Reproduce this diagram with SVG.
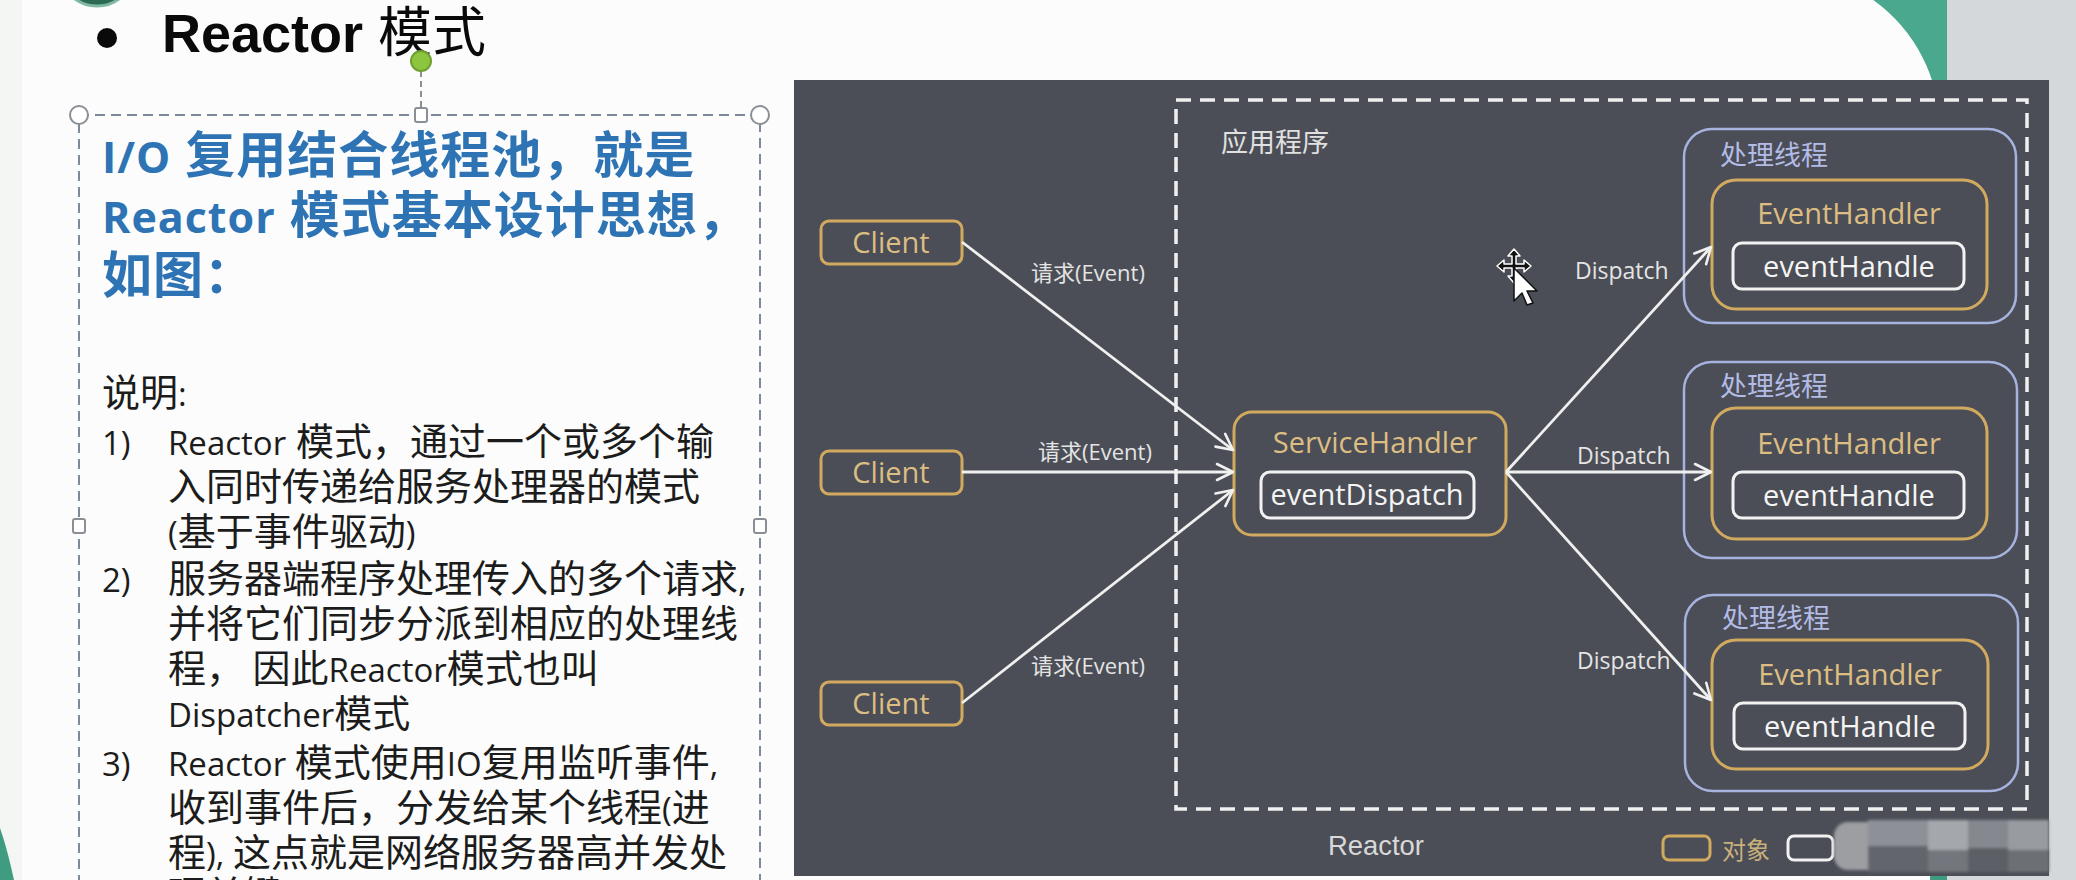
<svg xmlns="http://www.w3.org/2000/svg" width="2076" height="880" viewBox="0 0 2076 880">
  <defs>
    <style>
      .head { font-family: "Liberation Sans", "Noto Sans CJK SC", sans-serif; font-size: 54px; font-weight: 700; fill: #0a0a0a; }
      .head-cjk { font-weight: 400; }
      .title { font-family: "Open Sans", "Noto Sans CJK SC", sans-serif; font-size: 50px; font-weight: 700; fill: #2e74b5; letter-spacing: 1px; }
      .tlat { font-size: 43px; }
      .body { font-family: "Open Sans", "Noto Sans CJK SC", sans-serif; font-size: 38px; fill: #1c1c1c; }
      .lat { font-size: 33px; }
      .handle { fill: #ffffff; stroke: #8a8f96; stroke-width: 2; }
      .gold-box { fill: none; stroke: #d1a95f; stroke-width: 3; }
      .white-box { fill: none; stroke: #f2f2f2; stroke-width: 3; }
      .thread-box { fill: none; stroke: #a7b3df; stroke-width: 2.5; }
      .gold-text { font-family: "Open Sans", "Noto Sans CJK SC", sans-serif; font-size: 29px; fill: #dcbd82; text-anchor: middle; }
      .white-text { font-family: "Open Sans", "Noto Sans CJK SC", sans-serif; font-size: 29px; fill: #f4f4f4; text-anchor: middle; }
      .thread-label { font-family: "Noto Sans CJK SC", sans-serif; font-size: 27px; fill: #b3bce6; }
      .edge { stroke: #f0f0f0; stroke-width: 2.8; fill: none; marker-end: url(#open-arrow); }
      .edge-label { font-family: "Open Sans", "Noto Sans CJK SC", sans-serif; font-size: 22px; fill: #e4e4e4; }
      .dispatch-label { font-family: "Open Sans", sans-serif; font-size: 23px; fill: #e4e4e4; }
    </style>
    <marker id="open-arrow" viewBox="0 0 20 20" refX="18" refY="10" markerWidth="20" markerHeight="20" markerUnits="userSpaceOnUse" orient="auto">
      <path d="M2,2 L18,10 L2,18" fill="none" stroke="#f0f0f0" stroke-width="2.6" stroke-linecap="round" stroke-linejoin="round"/>
    </marker>
    <filter id="soft" x="-10%" y="-10%" width="120%" height="120%">
      <feGaussianBlur stdDeviation="1.5"/>
    </filter>
  </defs>

  <!-- slide backdrop -->
  <rect x="0" y="0" width="2076" height="880" fill="#fbfcfb"/>
  <rect x="0" y="0" width="22" height="880" fill="#f4f6f4"/>
  <rect x="1800" y="0" width="147" height="80" fill="#4aa88e"/>
  <rect x="1947" y="0" width="129" height="880" fill="#d5d8da"/>
  <path d="M1700,0 H1873.3 A160,160 0 0 1 1940,130 V160 H1700 Z" fill="#fbfcfb"/>
  <ellipse cx="97" cy="-28" rx="36" ry="34" fill="#2c6a55" stroke="#7fb9a2" stroke-width="3"/>
  <path d="M0,828 C6,845 10,862 14,880 L0,880 Z" fill="#3f9c80"/>

  <!-- heading -->
  <g id="heading">
    <circle cx="107" cy="38" r="10" fill="#0a0a0a"/>
    <text class="head" x="162" y="52">Reactor <tspan class="head-cjk">模式</tspan></text>
  </g>

  <!-- text box with selection frame -->
  <g id="text-box">
    <rect x="79" y="115" width="681" height="800" fill="none" stroke="#7d8a99" stroke-width="2" stroke-dasharray="10 6"/>
    <line x1="421" y1="71" x2="421" y2="108" stroke="#8a8f96" stroke-width="2" stroke-dasharray="6 4"/>
    <circle cx="421" cy="61" r="10" fill="#8cc63f" stroke="#6e9f33" stroke-width="2"/>
    <circle class="handle" cx="79" cy="115" r="9"/>
    <circle class="handle" cx="760" cy="115" r="9"/>
    <rect class="handle" x="415" y="108" width="12" height="14" rx="2"/>
    <rect class="handle" x="73" y="519" width="12" height="14" rx="2"/>
    <rect class="handle" x="754" y="519" width="12" height="14" rx="2"/>

    <text class="title" x="102" y="173"><tspan class="tlat">I/O</tspan> 复用结合线程池，就是</text>
    <text class="title" x="102" y="233"><tspan class="tlat">Reactor</tspan> 模式基本设计思想，</text>
    <text class="title" x="102" y="293">如图：</text>

    <text class="body" x="102" y="406">说明<tspan class="lat">:</tspan></text>
    <text class="body lat" x="102" y="455">1)</text>
    <text class="body" x="168" y="455"><tspan class="lat">Reactor</tspan> 模式，通过一个或多个输</text>
    <text class="body" x="168" y="500">入同时传递给服务处理器的模式</text>
    <text class="body" x="168" y="545"><tspan class="lat">(</tspan>基于事件驱动<tspan class="lat">)</tspan></text>
    <text class="body lat" x="102" y="592">2)</text>
    <text class="body" x="168" y="592">服务器端程序处理传入的多个请求<tspan class="lat">,</tspan></text>
    <text class="body" x="168" y="637">并将它们同步分派到相应的处理线</text>
    <text class="body" x="168" y="682">程，<tspan class="lat"> </tspan>因此<tspan class="lat">Reactor</tspan>模式也叫</text>
    <text class="body" x="168" y="727"><tspan class="lat">Dispatcher</tspan>模式</text>
    <text class="body lat" x="102" y="776">3)</text>
    <text class="body" x="168" y="776"><tspan class="lat">Reactor </tspan>模式使用<tspan class="lat">IO</tspan>复用监听事件<tspan class="lat">,</tspan></text>
    <text class="body" x="168" y="821">收到事件后，分发给某个线程<tspan class="lat">(</tspan>进</text>
    <text class="body" x="168" y="866">程<tspan class="lat">), </tspan>这点就是网络服务器高并发处</text>
    <text class="body" x="168" y="908">理关键</text>
  </g>

  <!-- diagram panel -->
  <rect id="panel" x="794" y="80" width="1255" height="796" fill="#4b4e56"/>
  <rect x="1930" y="876" width="17" height="4" fill="#3f9c80"/>

  <g id="app-boundary">
    <rect x="1176" y="100" width="851" height="709" fill="none" stroke="#f0f0f0" stroke-width="3.5" stroke-dasharray="15 9"/>
    <text x="1221" y="152" font-family="'Noto Sans CJK SC', sans-serif" font-size="27" fill="#e0e0e0">应用程序</text>
  </g>

  <g id="client-1">
    <rect class="gold-box" x="821" y="221" width="141" height="43" rx="8"/>
    <text class="gold-text" x="891" y="253">Client</text>
  </g>
  <g id="client-2">
    <rect class="gold-box" x="821" y="451" width="141" height="43" rx="8"/>
    <text class="gold-text" x="891" y="483">Client</text>
  </g>
  <g id="client-3">
    <rect class="gold-box" x="821" y="682" width="141" height="43" rx="8"/>
    <text class="gold-text" x="891" y="714">Client</text>
  </g>

  <g id="service-handler">
    <rect class="gold-box" x="1234" y="412" width="272" height="123" rx="18"/>
    <text class="gold-text" x="1375" y="453">ServiceHandler</text>
    <rect class="white-box" x="1261" y="472" width="213" height="46" rx="9"/>
    <text class="white-text" x="1367" y="505">eventDispatch</text>
  </g>

  <g id="thread-1">
    <rect class="thread-box" x="1684" y="129" width="332" height="194" rx="28"/>
    <text class="thread-label" x="1720" y="165">处理线程</text>
    <rect class="gold-box" x="1712" y="180" width="275" height="129" rx="24"/>
    <text class="gold-text" x="1849" y="224">EventHandler</text>
    <rect class="white-box" x="1733" y="243" width="231" height="46" rx="9"/>
    <text class="white-text" x="1849" y="277">eventHandle</text>
  </g>
  <g id="thread-2">
    <rect class="thread-box" x="1684" y="362" width="333" height="196" rx="28"/>
    <text class="thread-label" x="1720" y="396">处理线程</text>
    <rect class="gold-box" x="1712" y="408" width="275" height="131" rx="24"/>
    <text class="gold-text" x="1849" y="454">EventHandler</text>
    <rect class="white-box" x="1733" y="472" width="231" height="46" rx="9"/>
    <text class="white-text" x="1849" y="506">eventHandle</text>
  </g>
  <g id="thread-3">
    <rect class="thread-box" x="1685" y="595" width="333" height="196" rx="28"/>
    <text class="thread-label" x="1722" y="628">处理线程</text>
    <rect class="gold-box" x="1712" y="640" width="276" height="129" rx="24"/>
    <text class="gold-text" x="1850" y="685">EventHandler</text>
    <rect class="white-box" x="1734" y="703" width="231" height="46" rx="9"/>
    <text class="white-text" x="1850" y="737">eventHandle</text>
  </g>

  <g id="connectors">
    <line class="edge" x1="962" y1="242" x2="1233" y2="450"/>
    <line class="edge" x1="962" y1="472" x2="1233" y2="472"/>
    <line class="edge" x1="962" y1="703" x2="1233" y2="490"/>
    <line class="edge" x1="1506" y1="472" x2="1711" y2="247"/>
    <line class="edge" x1="1506" y1="472" x2="1711" y2="472"/>
    <line class="edge" x1="1506" y1="472" x2="1711" y2="700"/>
    <text class="edge-label" x="1031" y="281">请求(Event)</text>
    <text class="edge-label" x="1038" y="460">请求(Event)</text>
    <text class="edge-label" x="1031" y="674">请求(Event)</text>
    <text class="dispatch-label" x="1575" y="279">Dispatch</text>
    <text class="dispatch-label" x="1577" y="464">Dispatch</text>
    <text class="dispatch-label" x="1577" y="669">Dispatch</text>
  </g>

  <text id="reactor-label" x="1328" y="855" font-family="'Liberation Sans', sans-serif" font-size="28" fill="#d8d8d8" textLength="96" lengthAdjust="spacingAndGlyphs">Reactor</text>

  <g id="legend">
    <rect class="gold-box" x="1663" y="836" width="47" height="24" rx="6"/>
    <text x="1722" y="859" font-family="'Noto Sans CJK SC', sans-serif" font-size="24" fill="#c9b07c">对象</text>
    <rect class="white-box" x="1788" y="836" width="45" height="24" rx="6"/>
  </g>

  <!-- pixelated patch over the lower right corner -->
  <g filter="url(#soft)">
    <rect x="1834" y="822" width="46" height="48" rx="14" fill="#9c9ea2"/>
    <rect x="1868" y="820" width="60" height="26" fill="#8d9096"/>
    <rect x="1868" y="846" width="60" height="26" fill="#62656c"/>
    <rect x="1928" y="820" width="40" height="30" fill="#a4a7ab"/>
    <rect x="1928" y="850" width="40" height="22" fill="#73767c"/>
    <rect x="1968" y="820" width="40" height="28" fill="#85888e"/>
    <rect x="1968" y="848" width="40" height="24" fill="#5b5e65"/>
    <rect x="2008" y="820" width="41" height="30" fill="#989ba0"/>
    <rect x="2008" y="850" width="41" height="22" fill="#6c6f75"/>
  </g>

  <!-- mouse pointer -->
  <g id="pointer" stroke-linejoin="round">
    <path d="M1514,249 l-6,7 h4 v8 h-8 v-4 l-7,6 7,6 v-4 h8 v8 h-4 l6,7 6,-7 h-4 v-8 h8 v4 l7,-6 -7,-6 v4 h-8 v-8 h4 z" fill="#111111" stroke="#ffffff" stroke-width="1.5"/>
    <polygon points="1514,268 1514,301 1522,293 1527,305 1533,303 1527,291 1537,291" fill="#ffffff" stroke="#111111" stroke-width="1.5"/>
  </g>
</svg>
